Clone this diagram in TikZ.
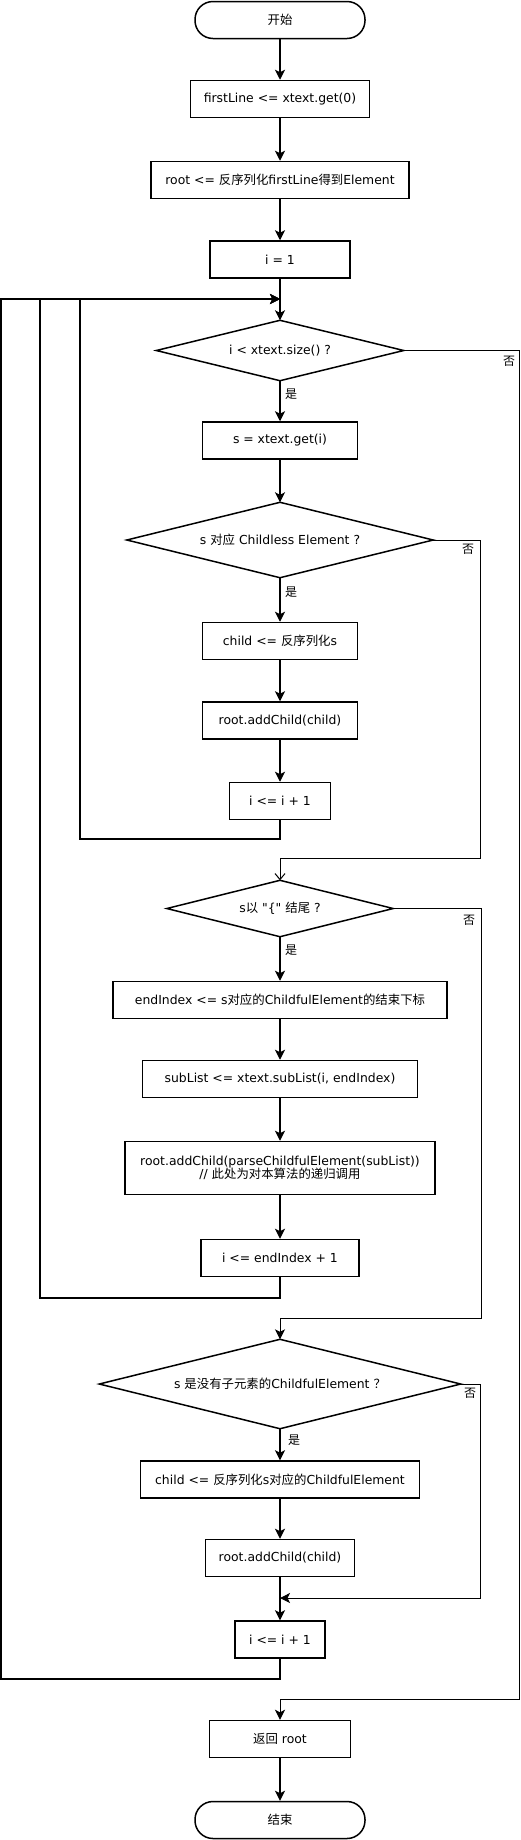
\documentclass[tikz,border=0pt]{standalone}
\usepackage{fontspec}
\setmainfont{DejaVu Sans}
\newfontfamily\plain{DejaVu Sans}
\newfontfamily\cjk{Noto Sans CJK SC}
\usetikzlibrary{arrows.meta}
\begin{document}
\begin{tikzpicture}[x=1pt,y=-1pt,
  font=\fontsize{12.4}{15}\selectfont,
  box/.style={draw,line width=1.5pt,minimum width=#1,minimum height=37pt,inner sep=0pt,align=center},
  term/.style={draw,line width=1.5pt,rounded corners=18pt,minimum width=170pt,minimum height=37pt,inner sep=0pt},
  dec/.style 2 args={rectangle,inner sep=0pt,minimum width=#1,minimum height=#2},
  dline/.style={line width=1.5pt,line join=miter},
  flow/.style={line width=1.5pt,-{Stealth[length=10pt,width=10pt,inset=2.5pt]}},
  noflow/.style={line width=1pt,-{Stealth[length=10pt,width=10pt,inset=2.5pt]}},
  noopen/.style={line width=1pt,-{Straight Barb[length=6pt,width=10pt,line width=1pt]}},
  lab/.style={inner sep=0pt,font=\fontsize{12}{14}\selectfont\cjk}]
\useasboundingbox (0,0) rectangle (520,1840);
% nodes
\node[term] (start) at (280,20) {\cjk 开始};
\node[box=179pt] (b1) at (280,99) {firstLine <= xtext.get(0)};
\node[box=258pt] (b2) at (280,180) {root <= {\cjk 反序列化}firstLine{\cjk 得到}Element};
\node[box=140pt] (b3) at (280,259.5) {i = 1};
\coordinate (m) at (280,299);
\node[dec={247pt}{60pt}] (d1) at (280,350.5) {i < xtext.size() ?};
\node[box=155pt] (b4) at (280,440.5) {s = xtext.get(i)};
\node[dec={306pt}{75pt}] (d2) at (280,540) {s {\cjk 对应} Childless Element ?};
\node[box=155pt] (b5) at (280,641) {child <= {\cjk 反序列化}s};
\node[box=155pt] (b6) at (280,720.5) {root.addChild(child)};
\node[box=101pt] (b7) at (280,801) {i <= i + 1};
\node[dec={226pt}{56pt}] (d3) at (280,908.5) {s{\cjk 以} {\plain "\{"} {\cjk 结尾} ?};
\node[box=334pt] (b8) at (280,1000) {endIndex <= s{\cjk 对应的}ChildfulElement{\cjk 的结束下标}};
\node[box=275pt] (b9) at (280,1079) {subList <= xtext.subList(i, endIndex)};
\node[box=310pt,minimum height=53pt] (b10) at (280,1168) {root.addChild(parseChildfulElement(subList))\\[-2pt]// {\cjk 此处为对本算法的递归调用}};
\node[box=158pt] (b11) at (280,1258) {i <= endIndex + 1};
\node[dec={361pt}{89pt}] (d4) at (280,1384) {s {\cjk 是没有子元素的}ChildfulElement {\cjk ？}};
\node[box=279pt] (b12) at (280,1479.5) {child <= {\cjk 反序列化}s{\cjk 对应的}ChildfulElement};
\node[box=149pt] (b13) at (280,1558) {root.addChild(child)};
\node[box=90pt] (b14) at (280,1639.5) {i <= i + 1};
\node[box=141pt] (b15) at (280,1739) {{\cjk 返回} root};
\node[term] (end) at (280,1820) {\cjk 结束};
% diamond outlines
\foreach \d in {d1,d2,d3,d4}
  \draw[dline] (\d.north) -- (\d.east) -- (\d.south) -- (\d.west) -- cycle;
% labels
\node[lab] (n1) at (509,361) {否};
\node[lab] (y1) at (291,394) {是};
\node[lab] (n2) at (468,549) {否};
\node[lab] (y2) at (291,592) {是};
\node[lab] (n3) at (469,920) {否};
\node[lab] (y3) at (291,950) {是};
\node[lab] (n4) at (470,1393) {否};
\node[lab] (y4) at (294,1440) {是};
% main flow
\draw[flow] (start) -- (b1);
\draw[flow] (b1) -- (b2);
\draw[flow] (b2) -- (b3);
\draw[flow] (b3) -- (d1);
\draw[flow] (d1) -- (b4);
\draw[flow] (b4) -- (d2);
\draw[flow] (d2) -- (b5);
\draw[flow] (b5) -- (b6);
\draw[flow] (b6) -- (b7);
\draw[flow] (d3) -- (b8);
\draw[flow] (b8) -- (b9);
\draw[flow] (b9) -- (b10);
\draw[flow] (b10) -- (b11);
\draw[flow] (d4) -- (b12);
\draw[flow] (b12) -- (b13);
\draw[flow] (b13) -- (b14);
\draw[flow] (b15) -- (end);
% loops back
\draw[flow] (b7.south) |- (80,839) -- (80,299) -- (m);
\draw[flow] (b11.south) |- (40,1298) -- (40,299) -- (m);
\draw[flow] (b14.south) |- (1,1679) -- (1,299) -- (m);
% no branches
\draw[noflow] (d1.east) -| (519,1699) -| (b15.north);
\draw[noopen] (d2.east) -| (480,858) -| (d3.north);
\draw[noflow] (d3.east) -| (481,1318) -| (d4.north);
\draw[noflow] (d4.east) -| (480,1598) -- (280,1598);
\end{tikzpicture}
\end{document}
